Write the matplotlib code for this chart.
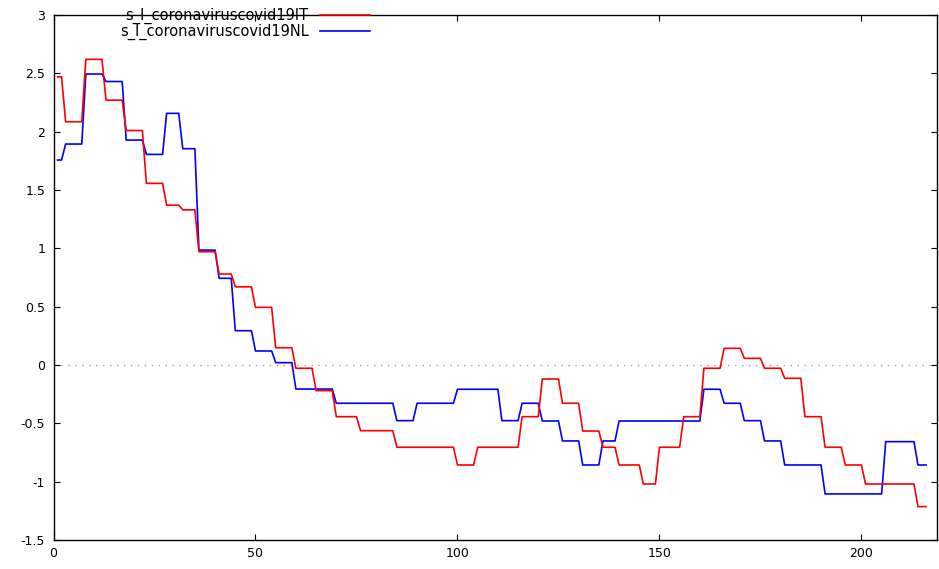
# step chart of two smoothed covid series (IT vs NL), gnuplot look

import numpy as np
import matplotlib
matplotlib.use('Agg')
import matplotlib.pyplot as plt
from matplotlib.ticker import FuncFormatter

# levels of each series and how many days each level lasts (from day 1)
it_levels = [2.47, 2.085, 2.62, 2.27, 2.01, 1.557, 1.37, 1.33, 0.971, 0.78,
             0.67, 0.494, 0.148, -0.028, -0.22, -0.443, -0.563, -0.705, -0.857, -0.705,
             -0.443, -0.12, -0.328, -0.566, -0.705, -0.857, -1.02, -0.705, -0.443, -0.028,
             0.143, 0.057, -0.028, -0.114, -0.443, -0.705, -0.857, -1.02, -1.214]
it_runs = [2, 5, 5, 5, 5, 5, 4, 4, 5, 4,
           5, 5, 5, 5, 5, 6, 9, 15, 5, 11,
           5, 5, 5, 5, 4, 6, 4, 6, 5, 5,
           5, 5, 5, 5, 5, 5, 5, 13, 3]

nl_levels = [1.757, 1.894, 2.494, 2.43, 1.928, 1.805, 2.157, 1.854, 0.985, 0.743,
             0.294, 0.12, 0.02, -0.206, -0.328, -0.477, -0.328, -0.208, -0.477, -0.328,
             -0.48, -0.651, -0.857, -0.651, -0.48, -0.208, -0.328, -0.477, -0.651, -0.857,
             -1.105, -0.657, -0.857]
nl_runs = [2, 5, 5, 5, 5, 5, 4, 4, 5, 4,
           5, 5, 5, 10, 15, 5, 10, 11, 5, 5,
           5, 5, 5, 4, 21, 5, 5, 5, 5, 10,
           15, 8, 3]

labels = ['s_l_coronaviruscovid19IT', 's_l_coronaviruscovid19NL']
colors = ['#ff0000', '#0000ff']

it_vals = np.repeat(it_levels, it_runs)
nl_vals = np.repeat(nl_levels, nl_runs)
it_days = np.arange(1, len(it_vals) + 1)
nl_days = np.arange(1, len(nl_vals) + 1)

fig = plt.figure(figsize=(9.39, 5.69), dpi=100)
ax = fig.add_axes([53.5 / 939, 1 - 540 / 569, (937 - 53.5) / 939, (540 - 15) / 569])

# dotted zero axis
ax.axhline(0, color='#a0a0a0', lw=1, ls=(0, (1, 4)), zorder=1)

ax.plot(it_days, it_vals, color=colors[0], lw=1.2, label=labels[0], zorder=3)
ax.plot(nl_days, nl_vals, color=colors[1], lw=1.2, label=labels[1], zorder=2)

ax.set_xlim(0, 218.7)
ax.set_ylim(-1.5, 3)
ax.set_xticks(np.arange(0, 201, 50))
ax.set_yticks(np.arange(-1.5, 3.01, 0.5))
ax.yaxis.set_major_formatter(FuncFormatter(lambda v, p: '%g' % v))
ax.tick_params(direction='in', length=4.5, width=0.8, top=True, right=True,
               labelsize=9, colors='black', pad=5)
ax.tick_params(axis='y', pad=6)
for s in ax.spines.values():
    s.set_linewidth(1.0)

leg = ax.legend(loc='upper right', bbox_to_anchor=(370 / 939, 1 - 8 / 569),
                bbox_transform=fig.transFigure, frameon=False, markerfirst=False,
                fontsize=10.5, handlelength=3.4, handletextpad=0.8,
                borderpad=0, borderaxespad=0, labelspacing=0.0)

fig.savefig('out.png', dpi=100)
